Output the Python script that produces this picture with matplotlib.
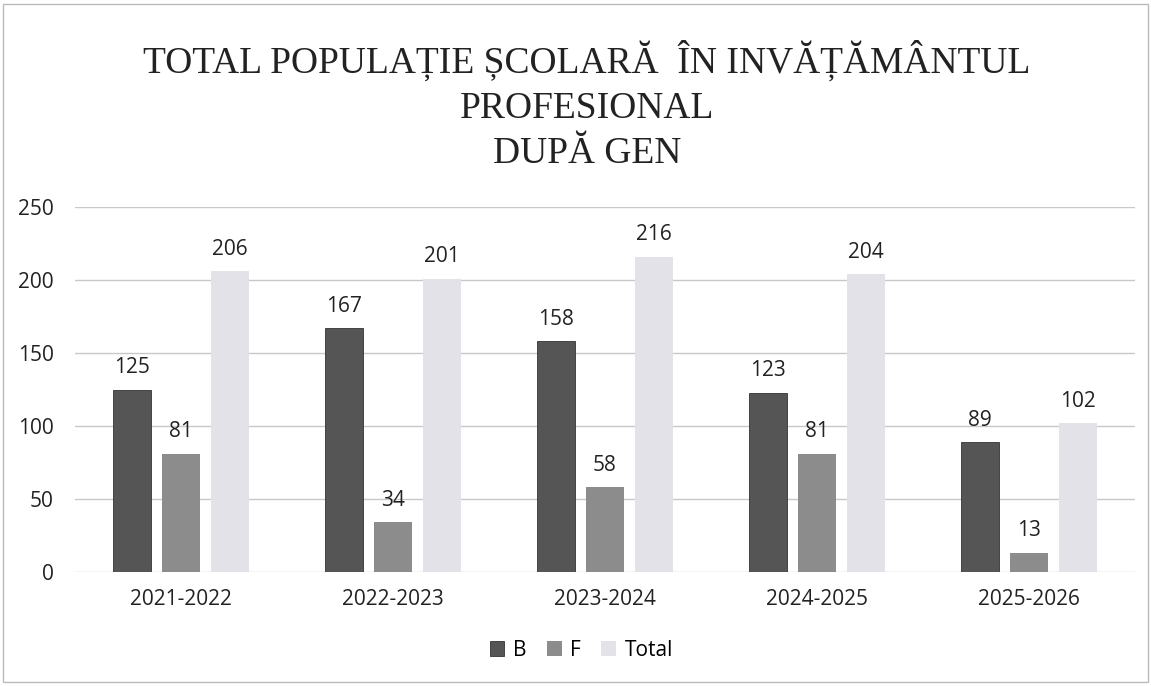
import matplotlib
matplotlib.use("Agg")
import matplotlib.pyplot as plt
import numpy as np
from matplotlib.patches import Rectangle

categories = ["2021-2022", "2022-2023", "2023-2024", "2024-2025", "2025-2026"]
series_names = ["B", "F", "Total"]
values_B = [125, 167, 158, 123, 89]
values_F = [81, 34, 58, 81, 13]
values_Total = [206, 201, 216, 204, 102]
colors = ["#555555", "#8c8c8c", "#e2e2e8"]

fig = plt.figure(figsize=(11.51, 6.86), dpi=100)
ax = fig.add_axes([0.065, 0.166, 0.921, 0.532])

x = np.arange(len(categories))
w = 0.18
off = 0.23
lab_font = "Open Sans"
fs = 15
for i, (vals, name, c) in enumerate(zip([values_B, values_F, values_Total], series_names, colors)):
    bars = ax.bar(x + (i - 1) * off, vals, width=w, color=c, label=name, zorder=3,
                  edgecolor="#333333" if i == 0 else c, linewidth=0.6 if i == 0 else 0)
    for b, v in zip(bars, vals):
        ax.text(b.get_x() + b.get_width() / 2, v + 8, str(v), ha="center", va="bottom",
                fontsize=fs, color="#222222", family=lab_font, zorder=4)

ax.set_ylim(0, 250)
ax.set_xlim(-0.5, len(categories) - 0.5)
ax.set_yticks(np.arange(0, 251, 50))
ax.yaxis.grid(True, color="#c8c8c8", linewidth=1, zorder=0)
ax.set_axisbelow(True)
for s in ax.spines.values():
    s.set_visible(False)
ax.tick_params(axis="both", length=0, labelsize=fs, colors="#222222")
ax.tick_params(axis="y", pad=15)
ax.tick_params(axis="x", pad=12)
ax.set_xticks(x)
ax.set_xticklabels(categories, family=lab_font)
for t in ax.get_yticklabels():
    t.set_family(lab_font)

fig.text(0.51, 0.847, "TOTAL POPULAȚIE ȘCOLARĂ  ÎN INVĂȚĂMÂNTUL\nPROFESIONAL\nDUPĂ GEN",
         ha="center", va="center", fontsize=27, family="Liberation Serif",
         color="#222222", linespacing=1.4)

leg = fig.legend(loc="center", bbox_to_anchor=(0.505, 0.052), ncol=3, frameon=False,
                 handlelength=0.7, handleheight=0.7, handletextpad=0.4,
                 columnspacing=1.0, prop={"family": lab_font, "size": fs})

fig.patches.append(Rectangle((0.003, 0.006), 0.994, 0.988, transform=fig.transFigure,
                             fill=False, edgecolor="#bbbbbb", linewidth=1))

fig.savefig("out.png", dpi=100, facecolor="white")
